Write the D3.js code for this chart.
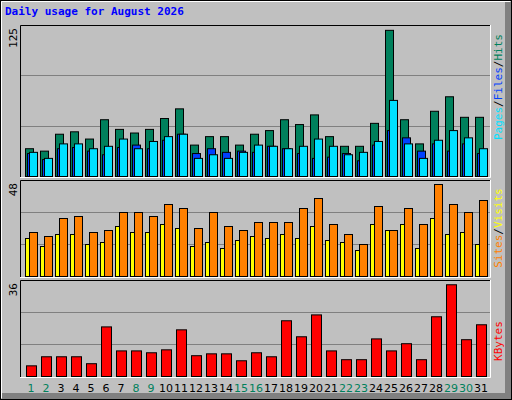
<!DOCTYPE html>
<html><head><meta charset="utf-8">
<script src="https://cdn.jsdelivr.net/npm/d3@7"></script>
<style>body{margin:0;background:#fff}svg{display:block}</style>
</head><body>
<script>
const days = d3.range(1, 32);
const weekend = [1,2,8,9,15,16,22,23,29,30];
const hits  = [23,21,35,37,31,47,39,36,39,48,56,26,33,33,26,35,38,47,43,51,33,25,25,44,121,47,27,54,66,49,49];
const files = [19,14,23,24,21,18,24,26,23,30,35,19,23,20,21,20,25,23,19,15,16,19,13,26,38,32,21,27,21,27,19];
const pages = [20,15,27,27,23,25,31,23,29,33,35,15,18,15,20,26,25,23,25,31,25,18,20,29,63,27,15,30,38,32,23];
const sites  = [19,15,21,21,16,17,25,22,22,26,24,15,17,14,18,20,19,21,19,25,18,17,13,26,23,26,14,29,21,22,16];
const visits = [22,20,29,30,22,23,32,32,30,36,34,24,32,25,23,27,27,27,34,39,26,21,16,35,23,34,26,46,36,32,38];
const kbytes = [4.0,7.4,7.4,7.4,4.8,18.6,9.6,9.6,8.9,10,17.5,7.8,8.5,8.5,5.9,8.9,7.4,20.9,14.9,23.1,9.6,6.3,6.3,14.1,9.6,12.3,6.3,22.4,34.4,13.8,19.4];
const maxLabels = ["125","48","36"];

const W=512,H=400;
const svg=d3.select("body").append("svg").attr("width",W).attr("height",H);
svg.append("rect").attr("width",W).attr("height",H).attr("fill","#c0c0c0");
// frame
svg.append("rect").attr("x",0.5).attr("y",0.5).attr("width",W-1).attr("height",H-1).attr("fill","none").attr("stroke","#000");
svg.append("path").attr("d","M1.5,398V1.5H510").attr("stroke","#fff").attr("fill","none");
svg.append("rect").attr("x",505).attr("y",2).attr("width",6).attr("height",397).attr("fill","#808080");
svg.append("rect").attr("x",2).attr("y",393).attr("width",509).attr("height",6).attr("fill","#808080");
svg.append("text").attr("x",5).attr("y",15).text("Daily usage for August 2026")
  .attr("font-family","DejaVu Sans Mono").attr("font-weight","bold").attr("font-size",11).attr("fill","#0000ff");

const x=d3.scaleLinear().domain([1,31]).range([25,475]);
const panels=[
  {top:25,bot:176,max:125},
  {top:180,bot:276,max:48},
  {top:280,bot:376,max:36}
];
panels.forEach((p,i)=>{
  p.y=d3.scaleLinear().domain([0,p.max]).range([p.bot,p.top]);
  svg.append("rect").attr("x",20).attr("y",p.top).attr("width",471).attr("height",p.bot-p.top+1).attr("fill","#c0c0c0");
  [1,2].forEach(k=>svg.append("line").attr("x1",21).attr("x2",490)
     .attr("y1",Math.round(p.top+(p.bot-p.top)*k/3)+0.5).attr("y2",Math.round(p.top+(p.bot-p.top)*k/3)+0.5).attr("stroke","#808080"));
  svg.append("path").attr("d",`M20.5,${p.bot+1}V${p.top+0.5}H491`).attr("stroke","#000").attr("fill","none");
  svg.append("path").attr("d",`M20,${p.bot+1.5}H490.5V${p.top}`).attr("stroke","#fff").attr("fill","none");
  svg.append("text").attr("transform",`translate(17,${p.top+3}) rotate(-90)`).attr("text-anchor","end")
    .text(maxLabels[i]).attr("font-family","DejaVu Sans Mono").attr("font-size",11).attr("fill","#000");
});
function bars(data,p,dx,w,color){
  svg.append("g").selectAll("rect").data(data).join("rect")
   .attr("x",(d,i)=>x(i+1)+dx+0.5).attr("width",w)
   .attr("y",d=>p.y(d)+0.5).attr("height",d=>p.bot-p.y(d))
   .attr("fill",color).attr("stroke","#000");
}
bars(hits,panels[0],0,8,"#00805c");
bars(files,panels[0],2,8,"#0040ff");
bars(pages,panels[0],4,8,"#00e0ff");
bars(sites,panels[1],0,8,"#ffff00");
bars(visits,panels[1],4,8,"#ff8000");
bars(kbytes,panels[2],1,10,"#ff0000");

function sideLabel(parts,cy){
  const t=svg.append("text").attr("transform",`translate(502,${cy}) rotate(-90)`).attr("text-anchor","middle")
   .attr("font-family","DejaVu Sans Mono").attr("font-size",11);
  parts.forEach(([s,c])=>t.append("tspan").text(s).attr("fill",c));
}
sideLabel([["Pages","#00e0ff"],["/","#000"],["Files","#0040ff"],["/","#000"],["Hits","#00805c"]],87);
sideLabel([["Sites","#ff8000"],["/","#000"],["Visits","#ffff00"]],228);
sideLabel([["KBytes","#ff0000"]],341);

svg.append("g").selectAll("text").data(days).join("text")
  .attr("x",d=>x(d)+6).attr("y",392).attr("text-anchor","middle")
  .attr("font-family","DejaVu Sans").attr("font-size",11)
  .attr("fill",d=>weekend.includes(d)?"#00805c":"#000").text(d=>d);
</script>
</body></html>
